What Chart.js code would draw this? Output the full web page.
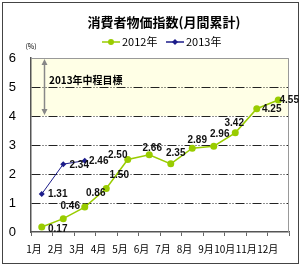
<!DOCTYPE html>
<html>
<head>
<meta charset="utf-8">
<script src="https://cdn.jsdelivr.net/npm/chart.js@4"></script>
<style>
  html, body { margin: 0; padding: 0; background: #fff; }
  #wrap { width: 303px; height: 267px; }
</style>
</head>
<body>
<div id="wrap"><canvas id="myChart" width="303" height="267"></canvas></div>
<script>
const months = ['1月', '2月', '3月', '4月', '5月', '6月', '7月', '8月', '9月', '10月', '11月', '12月'];
const cpi2012 = [0.17, 0.46, 0.86, 1.50, 2.50, 2.66, 2.35, 2.89, 2.96, 3.42, 4.25, 4.55];
const cpi2013 = [1.31, 2.34, 2.46];
const yTicks = [0, 1, 2, 3, 4, 5, 6];
const targetBand = [4, 6];

// where each value label sits relative to its point (px)
const offs2012 = [[16, 2], [7, -12], [11, -14], [13, -13], [-10, -4], [3, -7], [5, -11], [5, -8], [6, -12], [-1, -10], [15, 0], [11, 0]];
const offs2013 = [[16, 0], [16, 1], [14, 1]];

const green = '#99CC00';
const navy = '#1C1C8A';

const decor = {
  id: 'decor',
  beforeDraw(chart) {
    const { ctx, chartArea: a, scales: { y } } = chart;
    ctx.save();
    ctx.fillStyle = '#fff';
    ctx.fillRect(0, 0, chart.width, chart.height);
    ctx.fillStyle = '#FFFFE6';
    const t = y.getPixelForValue(targetBand[1]);
    const b = y.getPixelForValue(targetBand[0]);
    ctx.fillRect(a.left, t, a.right - a.left, b - t);
    ctx.restore();
  },
  afterDraw(chart) {
    const { ctx, chartArea: a, scales: { y } } = chart;
    ctx.save();
    // plot frame
    ctx.strokeStyle = '#999';
    ctx.lineWidth = 1;
    ctx.beginPath();
    ctx.moveTo(a.left, a.top + 0.5);
    ctx.lineTo(a.right - 0.5, a.top + 0.5);
    ctx.lineTo(a.right - 0.5, a.bottom);
    ctx.stroke();
    // outer frame
    ctx.strokeStyle = '#444';
    ctx.strokeRect(2.5, 2.5, 296, 261);

    // target arrow
    const t = y.getPixelForValue(targetBand[1]);
    const b = y.getPixelForValue(targetBand[0]);
    const ax = a.left + 13.5;
    ctx.strokeStyle = '#888';
    ctx.fillStyle = '#888';
    ctx.lineWidth = 1.5;
    ctx.beginPath();
    ctx.moveTo(ax, t + 4);
    ctx.lineTo(ax, b - 4);
    ctx.stroke();
    ctx.beginPath();
    ctx.moveTo(ax, t + 1); ctx.lineTo(ax - 3, t + 7); ctx.lineTo(ax + 3, t + 7); ctx.closePath();
    ctx.moveTo(ax, b - 1); ctx.lineTo(ax - 3, b - 7); ctx.lineTo(ax + 3, b - 7); ctx.closePath();
    ctx.fill();
    ctx.fillStyle = '#000';
    ctx.font = 'bold 10px "Noto Sans CJK JP", sans-serif';
    ctx.textBaseline = 'middle';
    ctx.textAlign = 'left';
    ctx.fillText('2013年中程目標', a.left + 18, (t + b) / 2 - 7);

    // title
    ctx.font = 'bold 13px "Noto Sans CJK JP", sans-serif';
    ctx.textAlign = 'center';
    ctx.fillText('消費者物価指数(月間累計)', 164, 22);

    // unit
    ctx.font = '7px "Noto Sans CJK JP", sans-serif';
    ctx.fillText('(%)', 31, 46);

    // legend
    const items = [[102, green, 'circle', '2012年'], [166, navy, 'diamond', '2013年']];
    ctx.font = '11px "Noto Sans CJK JP", sans-serif';
    ctx.textAlign = 'left';
    items.forEach(([x, c, shape, txt]) => {
      ctx.strokeStyle = c;
      ctx.fillStyle = c;
      ctx.lineWidth = 1.5;
      ctx.beginPath();
      ctx.moveTo(x, 42); ctx.lineTo(x + 18, 42);
      ctx.stroke();
      ctx.beginPath();
      if (shape === 'circle') {
        ctx.arc(x + 9, 42, 3, 0, Math.PI * 2);
      } else {
        ctx.moveTo(x + 9, 39); ctx.lineTo(x + 12, 42); ctx.lineTo(x + 9, 45); ctx.lineTo(x + 6, 42); ctx.closePath();
      }
      ctx.fill();
      ctx.fillStyle = '#000';
      ctx.fillText(txt, x + 20, 42);
    });

    // value labels
    ctx.font = 'bold 10px "Liberation Sans", Arial, sans-serif';
    ctx.textAlign = 'center';
    ctx.fillStyle = '#111';
    [[0, offs2012], [1, offs2013]].forEach(([di, offs]) => {
      const meta = chart.getDatasetMeta(di);
      const vals = chart.data.datasets[di].data;
      meta.data.forEach((pt, i) => {
        const o = offs[i] || [12, 0];
        ctx.fillText(vals[i].toFixed(2), pt.x + o[0], pt.y + o[1]);
      });
    });
    ctx.restore();
  }
};

const data = {
  labels: months,
  datasets: [{
    label: '2012年',
    data: cpi2012,
    borderColor: green,
    backgroundColor: green,
    borderWidth: 1.5,
    pointStyle: 'circle',
    pointRadius: 3.5,
    pointBorderWidth: 0,
  },
  {
    label: '2013年',
    data: cpi2013,
    borderColor: navy,
    backgroundColor: navy,
    borderWidth: 1,
    pointStyle: 'rectRot',
    pointRadius: 3,
    pointBorderWidth: 0,
  }]
};

const config = {
  type: 'line',
  data: data,
  plugins: [decor],
  options: {
    responsive: false,
    animation: false,
    layout: { padding: { left: 0, right: 14, top: 58, bottom: 0 } },
    plugins: { legend: { display: false }, title: { display: false }, tooltip: { enabled: false } },
    scales: {
      x: {
        offset: true,
        afterFit: (s) => { s.height = 35; },
        grid: { offset: true, drawOnChartArea: false, drawTicks: true, tickLength: 4, color: '#666' },
        border: { color: '#555', width: 1.5 },
        ticks: { align: 'end', padding: 7, color: '#000', font: { size: 10, family: '"Noto Sans CJK JP", sans-serif' }, maxRotation: 0, autoSkip: false }
      },
      y: {
        min: yTicks[0],
        max: yTicks[yTicks.length - 1],
        afterFit: (s) => { s.width = 31; },
        afterBuildTicks: (s) => { s.ticks = yTicks.map(v => ({ value: v })); },
        grid: {
          drawTicks: false,
          color: (c) => c.tick && c.tick.value === 0 ? 'rgba(0,0,0,0)' : (c.tick && c.tick.value === 6 ? '#aaa' : '#222'),
          lineWidth: 1
        },
        border: { color: '#555', width: 1.5, dash: [9, 2, 1, 2, 1, 2] },
        ticks: { padding: 15, color: '#000', font: { size: 13, family: '"Liberation Sans", Arial, sans-serif' } }
      }
    }
  }
};

const myChart = new Chart(document.getElementById('myChart'), config);
</script>
</body>
</html>
